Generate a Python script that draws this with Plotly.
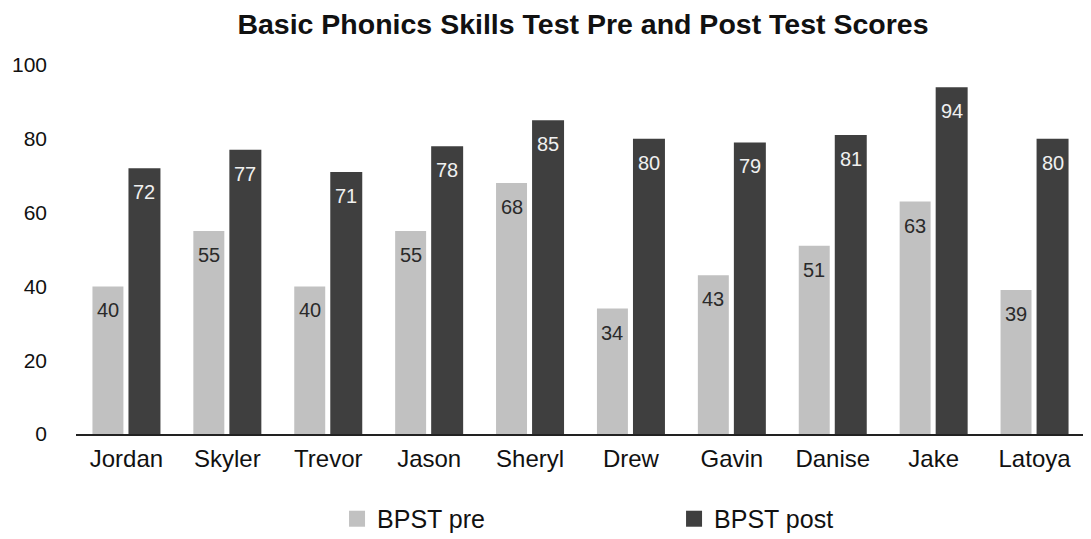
import plotly.graph_objects as go

students = ["Jordan", "Skyler", "Trevor", "Jason", "Sheryl", "Drew", "Gavin", "Danise", "Jake", "Latoya"]
pre_scores = [40, 55, 40, 55, 68, 34, 43, 51, 63, 39]
post_scores = [72, 77, 71, 78, 85, 80, 79, 81, 94, 80]
y_ticks = [0, 20, 40, 60, 80, 100]
series_names = ["BPST pre", "BPST post"]

PRE_COLOR = "#c1c1c1"
POST_COLOR = "#3f3f3f"
FONT = "Liberation Sans, Arial, Helvetica, sans-serif"

fig = go.Figure()
fig.add_trace(go.Bar(
    name=series_names[0], x=students, y=pre_scores,
    marker=dict(color=PRE_COLOR, line=dict(width=0)),
    offset=-0.337, width=0.307, hoverinfo="x+y", showlegend=False,
))
fig.add_trace(go.Bar(
    name=series_names[1], x=students, y=post_scores,
    marker=dict(color=POST_COLOR, line=dict(width=0)),
    offset=0.02, width=0.317, hoverinfo="x+y", showlegend=False,
))
# legend entries with large square swatches
for nm, col in zip(series_names, [PRE_COLOR, POST_COLOR]):
    fig.add_trace(go.Scatter(
        name=nm, x=[None], y=[None], mode="markers",
        marker=dict(symbol="square", size=22, color=col, line=dict(width=0)),
        showlegend=True, hoverinfo="skip",
    ))

annotations = []
for s, v in zip(students, pre_scores):
    annotations.append(dict(x=s, y=v, xref="x", yref="y", text=str(v), showarrow=False,
                            xshift=-18.5, yshift=-24, font=dict(family=FONT, size=20, color="#2a2a2a")))
for s, v in zip(students, post_scores):
    annotations.append(dict(x=s, y=v, xref="x", yref="y", text=str(v), showarrow=False,
                            xshift=18, yshift=-24, font=dict(family=FONT, size=20, color="#f0f0f0")))

fig.update_layout(
    width=1091, height=539,
    margin=dict(l=68, r=14, t=57, b=113, autoexpand=False),
    paper_bgcolor="white", plot_bgcolor="white",
    font=dict(family=FONT, size=22, color="#111111"),
    title=dict(text="<b>Basic Phonics Skills Test Pre and Post Test Scores</b>",
               x=0.527, xref="container", xanchor="center", y=0.97, yref="container", yanchor="middle",
               font=dict(family=FONT, size=28.5, color="#111111")),
    barmode="overlay",
    showlegend=True,
    legend=dict(orientation="h", x=0.3016, xanchor="left", xref="container", y=0.052, yref="container",
                yanchor="middle", entrywidth=292, font=dict(family=FONT, size=25, color="#111111"),
                itemsizing="trace", traceorder="normal"),
    annotations=annotations,
    xaxis=dict(showgrid=False, showline=True, linecolor="#222222", linewidth=1.5, automargin=False,
               ticks="", ticklen=0, ticklabelstandoff=2, tickfont=dict(size=24)),
    yaxis=dict(range=[0, 100], tickvals=y_ticks, showgrid=False, zeroline=False, showline=False,
               automargin=False, ticks="", ticklen=0, ticklabelstandoff=28, tickfont=dict(size=21)),
)

fig.write_html("out.html")
